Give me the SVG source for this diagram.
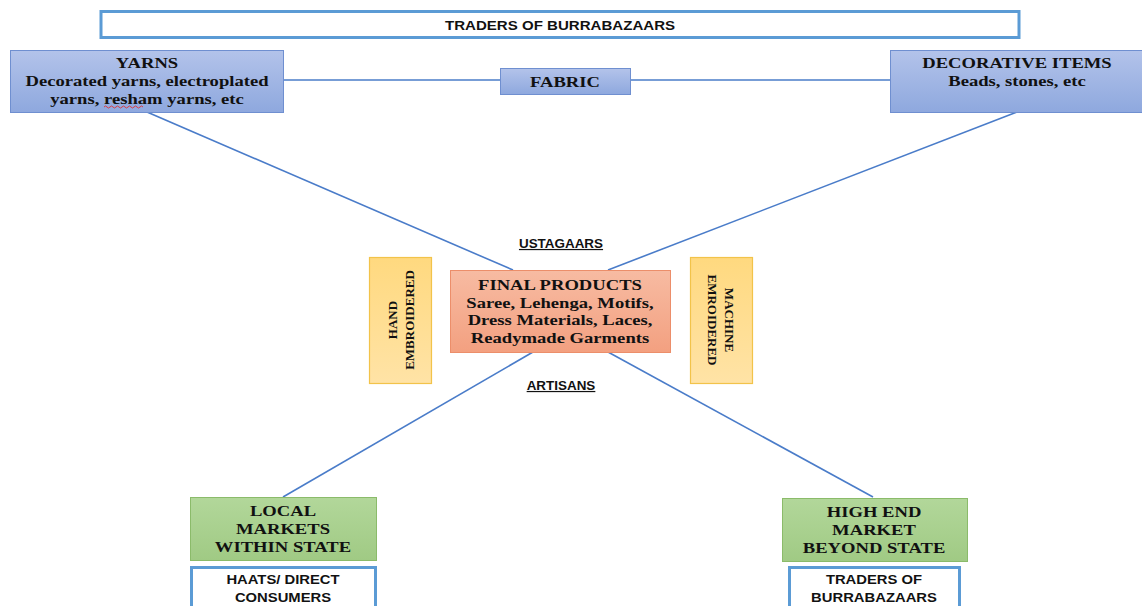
<svg xmlns="http://www.w3.org/2000/svg" width="1142" height="606" viewBox="0 0 1142 606">
<defs>
<linearGradient id="gBlue" x1="0" y1="0" x2="0" y2="1"><stop offset="0" stop-color="#b3c3ea"/><stop offset="1" stop-color="#8ea8de"/></linearGradient>
<linearGradient id="gSalmon" x1="0" y1="0" x2="0" y2="1"><stop offset="0" stop-color="#f7bba2"/><stop offset="1" stop-color="#f3a080"/></linearGradient>
<linearGradient id="gYellow" x1="0" y1="0" x2="0" y2="1"><stop offset="0" stop-color="#ffd97f"/><stop offset="1" stop-color="#ffe3a6"/></linearGradient>
<linearGradient id="gGreen" x1="0" y1="0" x2="0" y2="1"><stop offset="0" stop-color="#b2d79a"/><stop offset="1" stop-color="#a0ca84"/></linearGradient>
</defs>
<style>
.outline{fill:#ffffff;stroke:#5b9bd5;stroke-width:3}
.blue{fill:url(#gBlue);stroke:#6f8fd0;stroke-width:1}
.salmon{fill:url(#gSalmon);stroke:#ec8e6a;stroke-width:1}
.yellow{fill:url(#gYellow);stroke:#f2c34a;stroke-width:1.2}
.green{fill:url(#gGreen);stroke:#8bbb6a;stroke-width:1}
.serif{font-family:"Liberation Serif","Times New Roman",serif;font-weight:bold;font-size:14px;fill:#111111;text-anchor:middle}
.sans{font-family:"Liberation Sans",Arial,sans-serif;font-weight:bold;font-size:13px;fill:#111111;text-anchor:middle}
.lbl{font-family:"Liberation Sans",Arial,sans-serif;font-weight:bold;font-size:12px;fill:#111111;text-anchor:middle;text-decoration:underline}
.rot{font-family:"Liberation Serif","Times New Roman",serif;font-weight:bold;font-size:13px;fill:#111111;text-anchor:middle}
.conn line{stroke:#4a7cc9;stroke-width:1.6}
</style>
<rect width="1142" height="606" fill="#ffffff"/>
<g id="connectors" class="conn">
<line x1="283" y1="80" x2="500" y2="80"/>
<line x1="630" y1="80" x2="890" y2="80"/>
<line x1="147" y1="112" x2="513" y2="270"/>
<line x1="1017" y1="112" x2="608" y2="270"/>
<line x1="533" y1="352" x2="283" y2="497"/>
<line x1="608" y1="352" x2="873" y2="497"/>
</g>
<g id="traders-top">
<rect class="outline" x="101" y="11.5" width="918" height="26"/>
<text class="sans" transform="translate(560,29.5) scale(1.16,1)">TRADERS OF BURRABAZAARS</text>
</g>
<g id="yarns">
<rect class="blue" x="10.5" y="50.5" width="273" height="62"/>
<text class="serif" transform="translate(147,68) scale(1.33,1)">YARNS</text>
<text class="serif" transform="translate(147,86) scale(1.33,1)">Decorated yarns, electroplated</text>
<text class="serif" transform="translate(147,104) scale(1.33,1)">yarns, resham yarns, etc</text>
<path d="M104,107 q1.5,-2 3,0 t3,0 t3,0 t3,0 t3,0 t3,0 t3,0 t3,0 t3,0 t3,0 t3,0 t3,0 t3,0" fill="none" stroke="#e03030" stroke-width="0.9"/>
</g>
<g id="fabric">
<rect class="blue" x="500.5" y="68.5" width="130" height="26"/>
<text class="serif" transform="translate(565,86.5) scale(1.33,1)">FABRIC</text>
</g>
<g id="decorative">
<rect class="blue" x="890.5" y="50.5" width="252" height="62"/>
<text class="serif" transform="translate(1017,68) scale(1.33,1)">DECORATIVE ITEMS</text>
<text class="serif" transform="translate(1017,86) scale(1.33,1)">Beads, stones, etc</text>
</g>
<g id="ustagaars">
<text class="lbl" transform="translate(561,248) scale(1.12,1)">USTAGAARS</text>
</g>
<g id="final">
<rect class="salmon" x="450.5" y="270.5" width="220" height="82"/>
<text class="serif" transform="translate(560,290) scale(1.33,1)">FINAL PRODUCTS</text>
<text class="serif" transform="translate(560,307.5) scale(1.33,1)">Saree, Lehenga, Motifs,</text>
<text class="serif" transform="translate(560,325) scale(1.33,1)">Dress Materials, Laces,</text>
<text class="serif" transform="translate(560,342.5) scale(1.33,1)">Readymade Garments</text>
</g>
<g id="artisans">
<text class="lbl" transform="translate(561,390) scale(1.12,1)">ARTISANS</text>
</g>
<g id="hand">
<rect class="yellow" x="369.5" y="257.5" width="62" height="126"/>
<text class="rot" transform="translate(400,320) rotate(-90)"><tspan x="0" y="-3.5">HAND</tspan><tspan x="0" y="14">EMBROIDERED</tspan></text>
</g>
<g id="machine">
<rect class="yellow" x="690.5" y="257.5" width="62" height="126"/>
<text class="rot" transform="translate(721,320) rotate(90)"><tspan x="0" y="-4">MACHINE</tspan><tspan x="0" y="13.5">EMROIDERED</tspan></text>
</g>
<g id="local">
<rect class="green" x="190.5" y="497.5" width="186" height="63"/>
<text class="serif" transform="translate(283,516) scale(1.33,1)">LOCAL</text>
<text class="serif" transform="translate(283,534) scale(1.33,1)">MARKETS</text>
<text class="serif" transform="translate(283,552) scale(1.33,1)">WITHIN STATE</text>
</g>
<g id="haats">
<rect class="outline" x="191.5" y="567.5" width="184" height="45"/>
<text class="sans" transform="translate(283,584) scale(1.14,1)">HAATS/ DIRECT</text>
<text class="sans" transform="translate(283,602) scale(1.14,1)">CONSUMERS</text>
</g>
<g id="highend">
<rect class="green" x="782.5" y="498.5" width="185" height="63"/>
<text class="serif" transform="translate(874,517) scale(1.33,1)">HIGH END</text>
<text class="serif" transform="translate(874,535) scale(1.33,1)">MARKET</text>
<text class="serif" transform="translate(874,553) scale(1.33,1)">BEYOND STATE</text>
</g>
<g id="traders-bottom">
<rect class="outline" x="789.5" y="567.5" width="170" height="45"/>
<text class="sans" transform="translate(874,584) scale(1.14,1)">TRADERS OF</text>
<text class="sans" transform="translate(874,602) scale(1.14,1)">BURRABAZAARS</text>
</g>
</svg>
